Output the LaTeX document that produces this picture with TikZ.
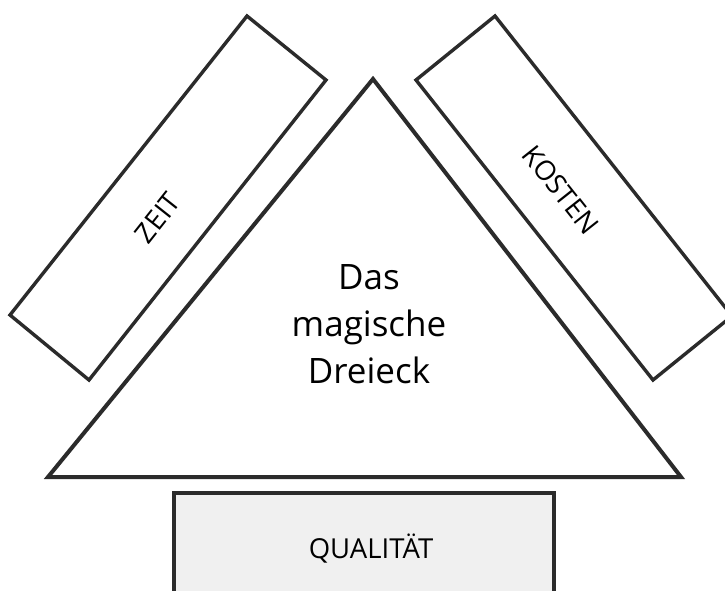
\documentclass[tikz,border=0pt]{standalone}
\usepackage{fontspec}
\setmainfont{Open Sans}
\definecolor{linec}{HTML}{2B2B2B}
\definecolor{boxfill}{HTML}{F0F0F0}
\tikzset{
  shapeline/.style={draw=linec, line width=3.4pt},
  triline/.style={draw=linec, line width=4pt},
  sidelabel/.style={font=\fontsize{27.5}{32}\selectfont, text=black, inner sep=0pt},
  mainlabel/.style={font=\fontsize{35}{47}\selectfont, text=black, align=center, inner sep=0pt},
}
\begin{document}
\begin{tikzpicture}[x=1pt,y=-1pt]
\useasboundingbox (0,0) rectangle (725,590);
\clip (0,0) rectangle (725,590);
\fill[white] (0,0) rectangle (725,590);
% ZEIT bar
\draw[shapeline] (247,16) -- (326,80) -- (89,380) -- (10,315) -- cycle;
% KOSTEN bar
\draw[shapeline] (495,16) -- (416,80) -- (653,380) -- (732,316) -- cycle;
% triangle
\draw[triline] (373,79) -- (681,477) -- (48,477) -- cycle;
% quality box
\draw[shapeline, line width=4pt, fill=boxfill] (174,493) rectangle (554,610);
% labels
\node[sidelabel, rotate=51.6] (zeit) at (158,218) {ZEIT};
\node[sidelabel, rotate=-51.6] (kosten) at (561,190) {KOSTEN};
\node[mainlabel] (dreieck) at (369,324) {Das\\magische\\Dreieck};
\node[sidelabel] (qual) at (371,549) {QUALITÄT};
\end{tikzpicture}
\end{document}
